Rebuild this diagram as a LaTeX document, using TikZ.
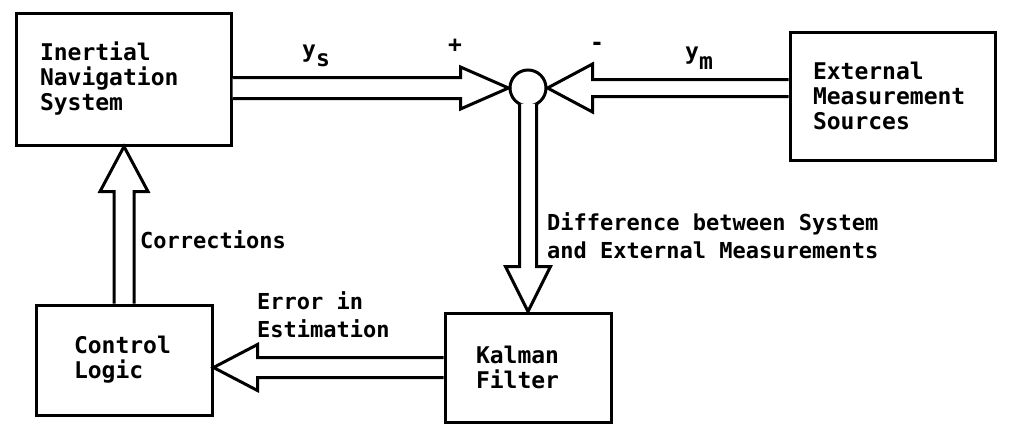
\documentclass[tikz,border=0pt]{standalone}
\usepackage{fontspec}
\setmainfont{DejaVu Sans Mono}
\usetikzlibrary{calc}
\newcommand\diafont{\bfseries\fontsize{23}{25}\selectfont}
\newcommand\labfont{\bfseries\fontsize{22}{28}\selectfont}
\tikzset{
  box/.style={draw, line width=3pt, inner sep=0pt, align=left, font=\diafont},
  fat/.style={draw, line width=3pt, line join=miter, fill=white},
  lbl/.style={inner sep=0pt, align=left, font=\labfont},
  sign/.style={inner sep=0pt, font=\diafont},
}
\begin{document}
\begin{tikzpicture}[x=1pt,y=-1pt]
\useasboundingbox[fill=white] (0,0) rectangle (1029,434);

% blocks
\node[box, minimum width=215pt, minimum height=132pt, text width=167pt] (ins) at (123.5,79) {Inertial\\Navigation\\System};
\node[box, minimum width=205pt, minimum height=128pt, text width=159pt] (ext) at (892.5,96) {External\\Measurement\\Sources};
\node[box, minimum width=176pt, minimum height=110pt, text width=100pt] (ctl) at (124,360) {Control\\Logic};
\node[box, minimum width=166pt, minimum height=109pt, text width=104pt] (kal) at (528,367.5) {Kalman\\Filter};
\node[draw, circle, line width=3pt, minimum size=36pt, inner sep=0pt] (sum) at (528,88) {};

% INS -> sum
\draw[fat] ($(ins.east |- sum.west)+(0,-10.5)$) -- ($(sum.west)+(-48,-10.5)$) -- ($(sum.west)+(-48,-21)$)
  -- (sum.west) -- ($(sum.west)+(-48,21)$) -- ($(sum.west)+(-48,10.5)$) -- ($(ins.east |- sum.west)+(0,10.5)$);
% External -> sum
\draw[fat] ($(ext.west |- sum.east)+(0,-8.5)$) -- ($(sum.east)+(45,-8.5)$) -- ($(sum.east)+(45,-24)$)
  -- (sum.east) -- ($(sum.east)+(45,24)$) -- ($(sum.east)+(45,8.5)$) -- ($(ext.west |- sum.east)+(0,8.5)$);
% sum -> Kalman
\draw[fat] ($(sum.center)+(-8.5,15.9)$) -- ($(kal.north)+(-8.5,-45)$) -- ($(kal.north)+(-22.5,-45)$)
  -- (kal.north) -- ($(kal.north)+(22.5,-45)$) -- ($(kal.north)+(8.5,-45)$) -- ($(sum.center)+(8.5,15.9)$);
% Kalman -> Control
\coordinate (kt) at (ctl.east |- kal.west);
\draw[fat] ($(kal.west)+(0,-10)$) -- ($(kt)+(44,-10)$) -- ($(kt)+(44,-23)$)
  -- (kt) -- ($(kt)+(44,23)$) -- ($(kt)+(44,10)$) -- ($(kal.west)+(0,10)$);
% Control -> INS
\coordinate (ut) at (ctl.north |- ins.south);
\draw[fat] ($(ctl.north)+(-10,0)$) -- ($(ut)+(-10,45)$) -- ($(ut)+(-24,45)$)
  -- (ut) -- ($(ut)+(24,45)$) -- ($(ut)+(10,45)$) -- ($(ctl.north)+(10,0)$);

% labels
\node[sign, anchor=base west] (ys) at (302,57) {y\raisebox{-9pt}{s}};
\node[sign] (plus) at (455,46) {+};
\node[sign] (minus) at (597,46) {-};
\node[sign, anchor=base west] (ym) at (685,59) {y\raisebox{-10pt}{m}};
\node[lbl, anchor=west] (corr) at (140,240) {Corrections};
\node[lbl, anchor=west] (err) at (257,315) {Error in\\Estimation};
\node[lbl, anchor=west] (diff) at (547,236) {Difference between System\\and External Measurements};
\end{tikzpicture}
\end{document}
